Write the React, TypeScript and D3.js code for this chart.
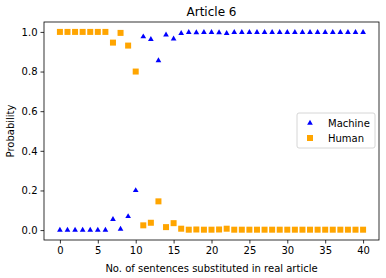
import * as d3 from "d3";
import { useEffect, useRef } from "react";

// sentences substituted, 0..40
const sentences = d3.range(0, 41);

// probability that the article is machine written
const machine = [
  0.0, 0.0, 0.0, 0.0, 0.0, 0.0, 0.0, 0.054, 0.005, 0.069,
  0.2, 0.976, 0.963, 0.855, 0.985, 0.965, 0.993, 0.998, 0.997, 0.998,
  0.998, 0.997, 0.993, 0.998, 0.998, 0.998, 0.998, 0.998, 0.998, 0.998,
  0.998, 0.998, 0.998, 0.998, 0.998, 0.998, 0.998, 0.998, 0.998, 0.998,
  0.998,
];
const human = [
  1.0, 1.0, 1.0, 1.0, 1.0, 1.0, 1.0, 0.946, 0.995, 0.931,
  0.8, 0.024, 0.037, 0.145, 0.015, 0.035, 0.007, 0.002, 0.003, 0.002,
  0.002, 0.003, 0.007, 0.002, 0.002, 0.002, 0.002, 0.002, 0.002, 0.002,
  0.002, 0.002, 0.002, 0.002, 0.002, 0.002, 0.002, 0.002, 0.002, 0.002,
  0.002,
];

const xTicks = [0, 5, 10, 15, 20, 25, 30, 35, 40];
const yTicks = [0, 0.2, 0.4, 0.6, 0.8, 1.0];

const BLUE = "#0000ff";
const ORANGE = "#ffa500";

const App = () => {
  const svgRef = useRef<SVGSVGElement>(null);

  useEffect(() => {
    if (!svgRef.current) return;
    const width = 386;
    const height = 278;
    const margin = { top: 22, right: 7, bottom: 38, left: 44 };

    const svg = d3.select(svgRef.current);
    svg.selectAll("*").remove();
    svg.style("font-family", "DejaVu Sans, sans-serif");

    const x = d3.scaleLinear().domain([-2.1, 42.1]).range([margin.left, width - margin.right]);
    const y = d3.scaleLinear().domain([-0.05, 1.05]).range([height - margin.bottom, margin.top]);

    // axes
    const xAxis = svg
      .append("g")
      .attr("transform", `translate(0, ${height - margin.bottom})`)
      .call(d3.axisBottom(x).tickValues(xTicks).tickSize(3.5).tickPadding(3).tickFormat(d3.format("d")));
    const yAxis = svg
      .append("g")
      .attr("transform", `translate(${margin.left}, 0)`)
      .call(d3.axisLeft(y).tickValues(yTicks).tickSize(3.5).tickPadding(3).tickFormat(d3.format(".1f")));
    for (const g of [xAxis, yAxis]) {
      g.select(".domain").remove();
      g.selectAll("text").attr("font-size", 10).attr("fill", "#000").style("font-family", "DejaVu Sans");
      g.selectAll("line").attr("stroke", "#000").attr("stroke-width", 0.8);
    }

    // frame
    svg
      .append("rect")
      .attr("x", margin.left)
      .attr("y", margin.top)
      .attr("width", width - margin.right - margin.left)
      .attr("height", height - margin.bottom - margin.top)
      .attr("fill", "none")
      .attr("stroke", "#000")
      .attr("stroke-width", 0.8);

    const tri = d3.symbol().type(d3.symbolTriangle).size(14);

    svg
      .append("g")
      .selectAll("path")
      .data(sentences)
      .join("path")
      .attr("d", tri)
      .attr("transform", i => `translate(${x(i)}, ${y(machine[i])})`)
      .attr("fill", BLUE);

    svg
      .append("g")
      .selectAll("rect")
      .data(sentences)
      .join("rect")
      .attr("x", i => x(i) - 3)
      .attr("y", i => y(human[i]) - 3)
      .attr("width", 6)
      .attr("height", 6)
      .attr("fill", ORANGE);

    // title & labels
    svg
      .append("text")
      .attr("x", (margin.left + width - margin.right) / 2)
      .attr("y", 16)
      .attr("text-anchor", "middle")
      .attr("font-size", 12)
      .text("Article 6");
    svg
      .append("text")
      .attr("x", (margin.left + width - margin.right) / 2)
      .attr("y", 272)
      .attr("text-anchor", "middle")
      .attr("font-size", 10)
      .text("No. of sentences substituted in real article");
    svg
      .append("text")
      .attr("transform", `translate(14, ${(margin.top + height - margin.bottom) / 2}) rotate(-90)`)
      .attr("text-anchor", "middle")
      .attr("font-size", 10)
      .text("Probability");

    // legend
    const lg = svg.append("g").attr("transform", "translate(297, 113)");
    lg.append("rect")
      .attr("width", 78)
      .attr("height", 35)
      .attr("rx", 2)
      .attr("fill", "#fff")
      .attr("fill-opacity", 0.8)
      .attr("stroke", "#ccc")
      .attr("stroke-width", 0.8);
    lg.append("path").attr("d", tri).attr("transform", "translate(13, 10)").attr("fill", BLUE);
    lg.append("text").attr("x", 31).attr("y", 13.5).attr("font-size", 10).text("Machine");
    lg.append("rect").attr("x", 10).attr("y", 22).attr("width", 6).attr("height", 6).attr("fill", ORANGE);
    lg.append("text").attr("x", 31).attr("y", 28.5).attr("font-size", 10).text("Human");
  }, []);

  return <svg ref={svgRef} width={386} height={278} style={{ position: "absolute", left: 0, top: 0 }} />;
};

export default App;
